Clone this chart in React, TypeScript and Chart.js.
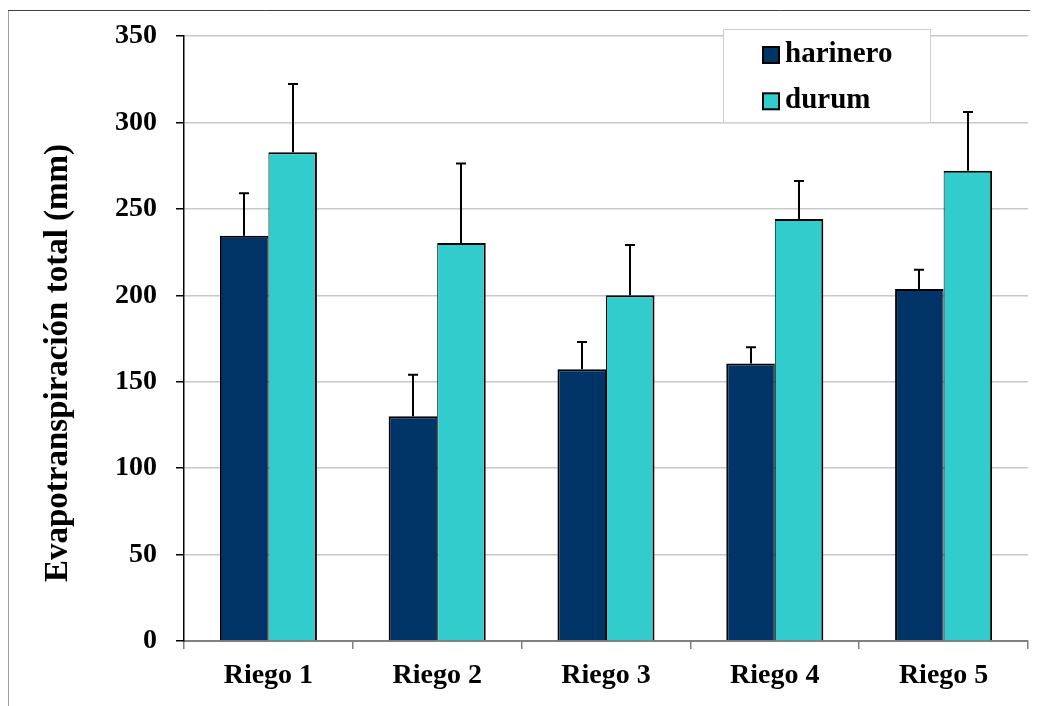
import React, { useEffect, useRef } from "react";
import { Chart, registerables } from "chart.js";

Chart.register(...registerables);

const categories = ["Riego 1", "Riego 2", "Riego 3", "Riego 4", "Riego 5"];
const harinero = [234.5, 130, 157.2, 160.6, 203.6];
const harineroErr = [24.5, 24, 15.8, 9.4, 11.2];
const durum = [282.7, 230.2, 200, 244.1, 272.1];
const durumErr = [39.5, 46.1, 29.1, 22, 33.9];
const seriesLabels = ["harinero", "durum"];
const yTitle = "Evapotranspiración total (mm)";

const FONT = "'Liberation Serif', 'Times New Roman', serif";

export default function App() {
  const ref = useRef<HTMLCanvasElement | null>(null);

  useEffect(() => {
    if (!ref.current) return;
    const errs = [harineroErr, durumErr];

    const framePlugin = {
      id: "frame",
      beforeDraw(chart: any) {
        const { ctx, width, height } = chart;
        ctx.save();
        ctx.fillStyle = "#ffffff";
        ctx.fillRect(0, 0, width, height);
        ctx.lineWidth = 1;
        ctx.strokeStyle = "#a0a0a0";
        ctx.beginPath();
        ctx.moveTo(0.5, 2);
        ctx.lineTo(0.5, height);
        ctx.stroke();
        ctx.strokeStyle = "#404040";
        ctx.beginPath();
        ctx.moveTo(0, 2.5);
        ctx.lineTo(width, 2.5);
        ctx.stroke();
        ctx.restore();
      },
    };

    const errorBarPlugin = {
      id: "errorBars",
      afterDatasetsDraw(chart: any) {
        const { ctx } = chart;
        const yScale = chart.scales.y;
        ctx.save();
        ctx.strokeStyle = "#000000";
        ctx.lineWidth = 2;
        chart.data.datasets.forEach((ds: any, di: number) => {
          const meta = chart.getDatasetMeta(di);
          meta.data.forEach((el: any, i: number) => {
            const v = ds.data[i] + errs[di][i];
            const yTop = yScale.getPixelForValue(v);
            const x = Math.round(el.x);
            ctx.beginPath();
            ctx.moveTo(x, el.y);
            ctx.lineTo(x, yTop);
            ctx.moveTo(x - 5, yTop);
            ctx.lineTo(x + 5, yTop);
            ctx.stroke();
          });
        });
        ctx.restore();
      },
    };

    const extrasPlugin = {
      id: "extras",
      afterDraw(chart: any) {
        const { ctx } = chart;
        ctx.save();
        ctx.translate(50.5, 355);
        ctx.rotate(-Math.PI / 2);
        ctx.font = `bold 33px ${FONT}`;
        ctx.fillStyle = "#000";
        ctx.textAlign = "center";
        ctx.textBaseline = "middle";
        ctx.fillText(yTitle, 0, 0);
        ctx.restore();

        ctx.save();
        ctx.fillStyle = "#ffffff";
        ctx.fillRect(715, 21, 207, 93);
        ctx.strokeStyle = "#d0d0d0";
        ctx.lineWidth = 1;
        ctx.strokeRect(715.5, 21.5, 207, 93);
        ctx.font = `bold 29px ${FONT}`;
        ctx.textAlign = "left";
        ctx.textBaseline = "alphabetic";
        chart.data.datasets.forEach((ds: any, di: number) => {
          const top = 39 + di * 46.3;
          ctx.fillStyle = ds.backgroundColor;
          ctx.fillRect(755, top, 16, 16);
          ctx.strokeStyle = "#000";
          ctx.lineWidth = 2;
          ctx.strokeRect(755, top, 16, 16);
          ctx.fillStyle = "#000";
          ctx.fillText(ds.label, 777, top + 15);
        });
        ctx.restore();
      },
    };

    const chart = new Chart(ref.current, {
      type: "bar",
      data: {
        labels: categories,
        datasets: [
          {
            label: seriesLabels[0],
            data: harinero,
            backgroundColor: "#003366",
            borderColor: "#000000",
            borderWidth: { top: 2, left: 2, right: 1, bottom: 0 },
          },
          {
            label: seriesLabels[1],
            data: durum,
            backgroundColor: "#33CCCC",
            borderColor: "#000000",
            borderWidth: { top: 2, left: 1, right: 2, bottom: 0 },
          },
        ],
      },
      options: {
        animation: false,
        responsive: true,
        maintainAspectRatio: false,
        layout: { padding: { top: 28, right: 10, left: 0, bottom: 0 } },
        datasets: {
          bar: { barPercentage: 1, categoryPercentage: 0.575 },
        },
        plugins: {
          legend: { display: false },
          tooltip: { enabled: false },
        },
        scales: {
          x: {
            afterFit(scale: any) {
              scale.height = 65;
              scale.paddingLeft = 0;
              scale.paddingRight = 0;
            },
            grid: {
              offset: true,
              drawOnChartArea: false,
              drawTicks: true,
              tickLength: 8,
              tickColor: "#808080",
              lineWidth: 1.5,
            },
            border: { color: "#808080", width: 2 },
            ticks: {
              color: "#000",
              padding: 10,
              maxRotation: 0,
              font: { family: FONT, size: 28, weight: "bold" },
            },
          },
          y: {
            min: 0,
            max: 350,
            afterFit(scale: any) {
              scale.width = 176;
              scale.paddingTop = 0;
              scale.paddingBottom = 0;
            },
            ticks: {
              stepSize: 50,
              color: "#000",
              padding: 19,
              font: { family: FONT, size: 28, weight: "bold" },
            },
            grid: {
              color: "#c8c8c8",
              lineWidth: 1.5,
              tickColor: "#000",
              tickLength: 8,
            },
            border: { color: "#000", width: 1.5 },
          },
        },
      },
      plugins: [framePlugin, errorBarPlugin, extrasPlugin],
    } as any);

    return () => chart.destroy();
  }, []);

  return (
    <div style={{ position: "relative", width: 1030, height: 698 }}>
      <canvas ref={ref} />
    </div>
  );
}
